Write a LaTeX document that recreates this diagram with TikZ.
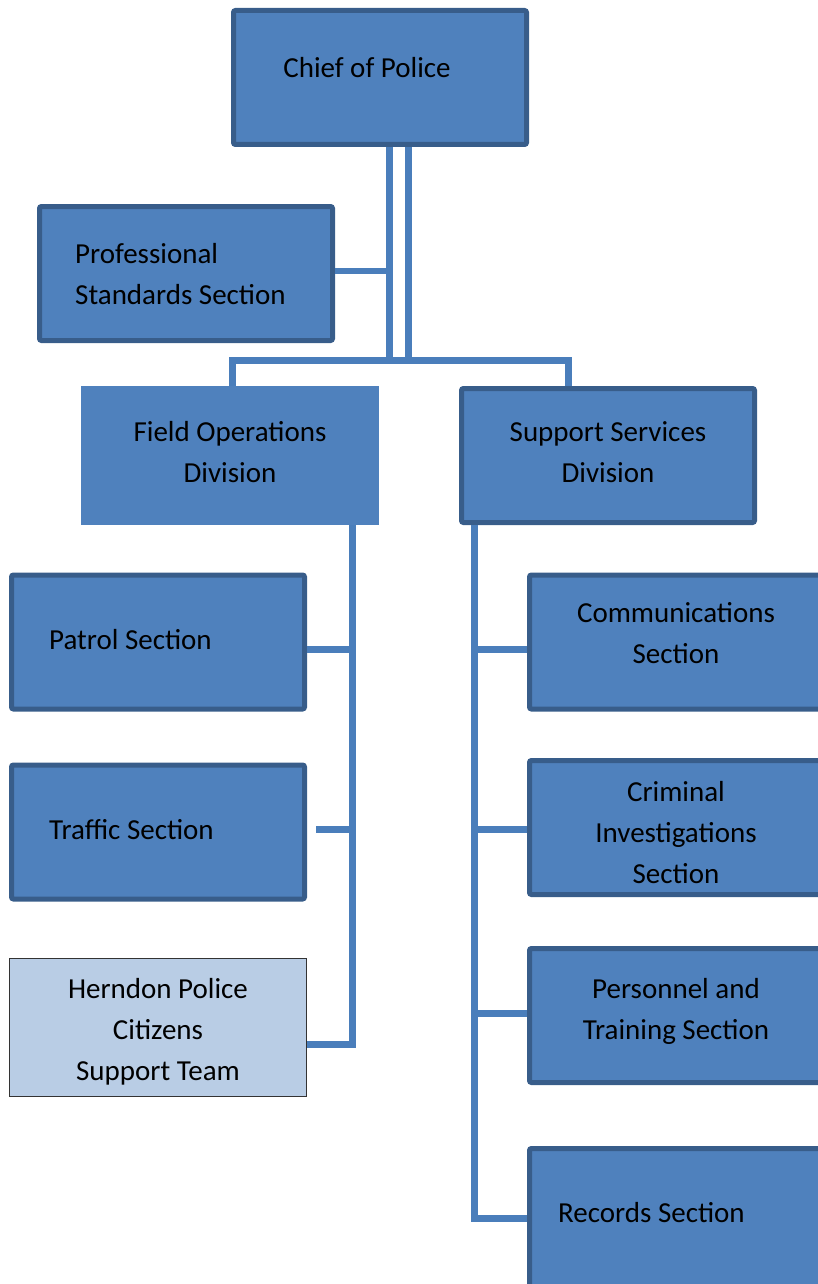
\documentclass[tikz,border=0pt]{standalone}
\usepackage{fontspec}
\setmainfont{Carlito}
\usepackage{tikz}
\definecolor{boxfill}{HTML}{4F81BD}
\definecolor{boxline}{HTML}{385D8A}
\definecolor{linkc}{HTML}{4A7EBB}
\definecolor{palefill}{HTML}{B9CDE5}

\begin{document}
\begin{tikzpicture}[x=1pt, y=-1pt,
		u/.style={rectangle, draw=boxline, fill=boxfill, line width=5pt, rounded corners=2pt, minimum width=293pt, minimum height=134pt, inner sep=0pt},
		link/.style={draw=linkc, line width=7pt},
		every label/.style={font=\fontsize{29}{41}\selectfont, inner sep=0pt, align=center, text=black}]
		\useasboundingbox (0,0) rectangle (817,1284);

		\node[u, label={[xshift=-13pt, yshift=9.5pt]center:Chief of Police}] (chief) at (380,77.5) {};
		\node[u, label={[anchor=west, align=left, xshift=38pt, yshift=-1pt]west:{Professional\\Standards Section}}] (prof) at (186,273.5) {};
		\node[u, draw=boxfill, rounded corners=0pt, label={[yshift=3pt]center:{Field Operations\\Division}}] (field) at (230,455.5) {};
		\node[u, label={[yshift=3pt]center:{Support Services\\Division}}] (support) at (608,455.5) {};

		\node[u, label={[anchor=west, xshift=40pt, yshift=2pt]west:Patrol Section}] (patrol) at (158,642) {};
		\node[u, label={[anchor=west, xshift=40pt, yshift=2pt]west:Traffic Section}] (traffic) at (158,832) {};
		\node[u, draw=black!80, fill=palefill, line width=1.5pt, rounded corners=0pt, minimum width=297pt, minimum height=138pt, label={[yshift=-4pt]center:{Herndon Police\\Citizens\\Support Team}}] (herndon) at (158,1027.5) {};

		\node[u, label={[yshift=9pt]center:{Communications\\Section}}] (comms) at (676,642) {};
		\node[u, label={[yshift=-5.5pt]center:{Criminal\\Investigations\\Section}}] (crim) at (676,827.5) {};
		\node[u, label={[yshift=4pt]center:{Personnel and\\Training Section}}] (pers) at (676,1015.5) {};
		\node[u, minimum height=140pt, label={[anchor=west, xshift=31pt, yshift=5.5pt]west:Records Section}] (records) at (676,1218.5) {};

		% chief down to the bus
		\coordinate (trunkA) at (389.5,360);
		\coordinate (trunkB) at (408,360);
		\coordinate (busL) at (232,360);
		\coordinate (busR) at (568,360);
		\draw[link] (chief.south -| trunkA) -- (trunkA);
		\draw[link] (chief.south -| trunkB) -- (trunkB);
		\draw[link, line width=6pt] ([yshift=2.5pt]prof.east) -- ([yshift=2.5pt]prof.east -| trunkA);
		\draw[link] (field.north -| busL) -- (busL) -- (busR) -- (support.north -| busR);

		% field operations
		\coordinate (f1) at (352,649);
		\coordinate (f2) at (352,829);
		\coordinate (f3) at (352,1044.5);
		\draw[link] (field.south -| f3) -- (f3) -- (herndon.east |- f3);
		\draw[link] (f1) -- (patrol.east |- f1);
		\draw[link] (f2) -- ([xshift=9pt]traffic.east |- f2);

		% support services
		\coordinate (s1) at (474,649);
		\coordinate (s2) at (474,829);
		\coordinate (s3) at (474,1013);
		\coordinate (s4) at (474,1218);
		\draw[link] (support.south -| s4) -- (s4) -- (records.west |- s4);
		\draw[link] (s1) -- (comms.west |- s1);
		\draw[link] (s2) -- (crim.west |- s2);
		\draw[link] (s3) -- (pers.west |- s3);
	\end{tikzpicture}
\end{document}
